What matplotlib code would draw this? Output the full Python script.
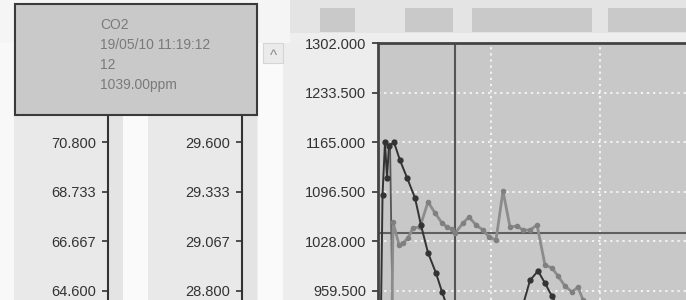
import matplotlib
matplotlib.use("Agg")
import matplotlib.pyplot as plt
from matplotlib.patches import Rectangle

plt.rcParams['font.family'] = ['Liberation Sans', 'DejaVu Sans']

# main CO2 axis (ppm)
co2_ticks = [959.5, 1028.0, 1096.5, 1165.0, 1233.5, 1302.0]
# the two side axes share the same grid rows
hum_ticks = [64.6, 66.667, 68.733, 70.8]
temp_ticks = [28.8, 29.067, 29.333, 29.6]

# CO2 readings (sample position, ppm)
co2_t = [2.14, 2.29, 3.14, 3.71, 4.43, 5.14, 6.14, 7.29, 8.29, 9.29, 10.0, 10.71,
         11.14, 12.29, 13.14, 14.14, 15.14, 16.0, 17.0, 18.0, 19.0, 20.0, 20.86,
         21.86, 22.86, 24.0, 25.0, 25.86, 26.86, 27.86, 28.71, 29.43, 30.43]
co2_v = [930, 1054.7, 1022.9, 1025.7, 1032.6, 1046.4, 1047.8, 1082.4, 1067.2, 1053.3,
         1047.8, 1045.0, 1039.0, 1053.3, 1061.6, 1050.6, 1043.6, 1034.0, 1029.8, 1097.6,
         1047.8, 1049.2, 1043.6, 1043.6, 1050.6, 995.2, 991.0, 980.0, 966.0, 957.8,
         964.8, 946.8, 925]

# second trace (dark, dotted)
dark_t = [0.57, 0.79, 1.14, 1.43, 1.71, 2.43, 3.29, 4.29, 5.43, 6.29, 7.29, 8.43,
          9.29, 10.29, 20.86, 21.86, 23.0, 24.0, 25.0, 26.0]
dark_v = [930, 1092, 1165, 1116, 1160, 1165, 1140, 1116, 1088, 1050, 1012, 984,
          958, 930, 940, 974, 987, 970, 952, 934]

# start-up spike
spike_t = [1.86, 2.21]
spike_v = [1163, 935]

cursor_t = 11.14
cursor_v = 1039.0
tip_lines = ["CO2", "19/05/10 11:19:12", "12", "1039.00ppm"]

W, H = 686, 300
fig = plt.figure(figsize=(W / 100, H / 100), dpi=100, facecolor='#ededed')


def fx(px):
    return px / W


def fy(py):
    return 1 - py / H


def rect(x0, y0, x1, y1, color, z=-1, **kw):
    fig.add_artist(Rectangle((fx(x0), fy(y1)), fx(x1) - fx(x0), fy(y0) - fy(y1),
                             transform=fig.transFigure, facecolor=color,
                             zorder=z, **kw))


# background pieces
rect(0, 0, 290, 43, '#f5f5f5')
rect(290, 0, 686, 33, '#e4e4e4')
rect(290, 33, 686, 43, '#eeeeee')
for x0, x1 in [(320, 355), (405, 453), (472, 592), (608, 686)]:
    rect(x0, 8, x1, 32, '#c9c9c9')
rect(0, 43, 14, 300, '#f8f8f8')
rect(14, 115, 108, 300, '#e9e9e9')
rect(148, 115, 242, 300, '#e9e9e9')
rect(123, 115, 148, 300, '#fafafa')
rect(258, 43, 283, 300, '#fafafa')
rect(263, 43, 283, 63, '#ebebeb', edgecolor='#d5d5d5', lw=0.8)
fig.text(fx(273), fy(56), '^', color='#8a8a8a', fontsize=11, ha='center', va='center')

top_px = 43.3
ppm_per_px = 68.5 / 49.5
y_lo = 1302 - (H - top_px) * ppm_per_px
y_hi = 1302.0
t_lo, t_hi = 1 / 7, (W - 377) / 7

ax = fig.add_axes([fx(378), 0, 1 - fx(378), fy(top_px)])
ax.set_facecolor('#c8c8c8')
ax.set_xlim(t_lo, t_hi)
ax.set_ylim(y_lo, y_hi)
ax.set_yticks(co2_ticks)
ax.set_yticklabels(['%.3f' % v for v in co2_ticks])
ax.set_xticks([16.3, 31.9])
ax.tick_params(axis='x', length=0, labelbottom=False)
ax.tick_params(axis='y', length=4.5, width=1.2, color='#333333', pad=4,
               labelsize=10.5, labelcolor='#333333')
ax.grid(color='white', linestyle=(0, (1.5, 2.5)), lw=1.1)
for s in ['right', 'bottom']:
    ax.spines[s].set_visible(False)
for s in ['left', 'top']:
    ax.spines[s].set_color('#444444')
    ax.spines[s].set_linewidth(2)

ax.axvline(cursor_t, color='#555555', lw=1.5, zorder=2)
ax.axhline(cursor_v, color='#5f5f5f', lw=1.5, zorder=2)
ax.plot(spike_t, spike_v, color='#555555', lw=1.3, zorder=3)
ax.plot(co2_t, co2_v, color='#8c8c8c', lw=2, marker='o', ms=3,
        mfc='#808080', mec='#808080', zorder=3)
ax.plot(dark_t, dark_v, color='#333333', lw=1.4, marker='o', ms=3.5, zorder=4)


def side_axis(x_spine, ticks, step):
    a = fig.add_axes([fx(x_spine), 0, fx(15), fy(top_px)])
    a.set_facecolor('#e4e4e4')
    base = ticks[0]
    a.set_ylim(base + (y_lo - 959.5) * step / 68.5, base + (y_hi - 959.5) * step / 68.5)
    a.set_yticks(ticks)
    a.set_yticklabels(['%.3f' % v for v in ticks])
    a.set_xticks([])
    for s in ['right', 'top', 'bottom']:
        a.spines[s].set_visible(False)
    a.spines['left'].set_color('#333333')
    a.spines['left'].set_linewidth(1.5)
    a.tick_params(axis='y', length=4.5, width=1.2, color='#333333', pad=4,
                  labelsize=10.5, labelcolor='#333333')
    return a


side_axis(108, hum_ticks, 2.0667)
side_axis(242, temp_ticks, 0.2667)

# tooltip box
rect(15, 4, 257, 115, '#c9c9c9', z=5, edgecolor='#3a3a3a', lw=1.5)
for i, line in enumerate(tip_lines):
    fig.text(fx(100), fy(29 + 20 * i), line, color='#7a7a7a', fontsize=10,
             va='baseline', zorder=6)

fig.savefig('out.png', dpi=100, facecolor=fig.get_facecolor())
